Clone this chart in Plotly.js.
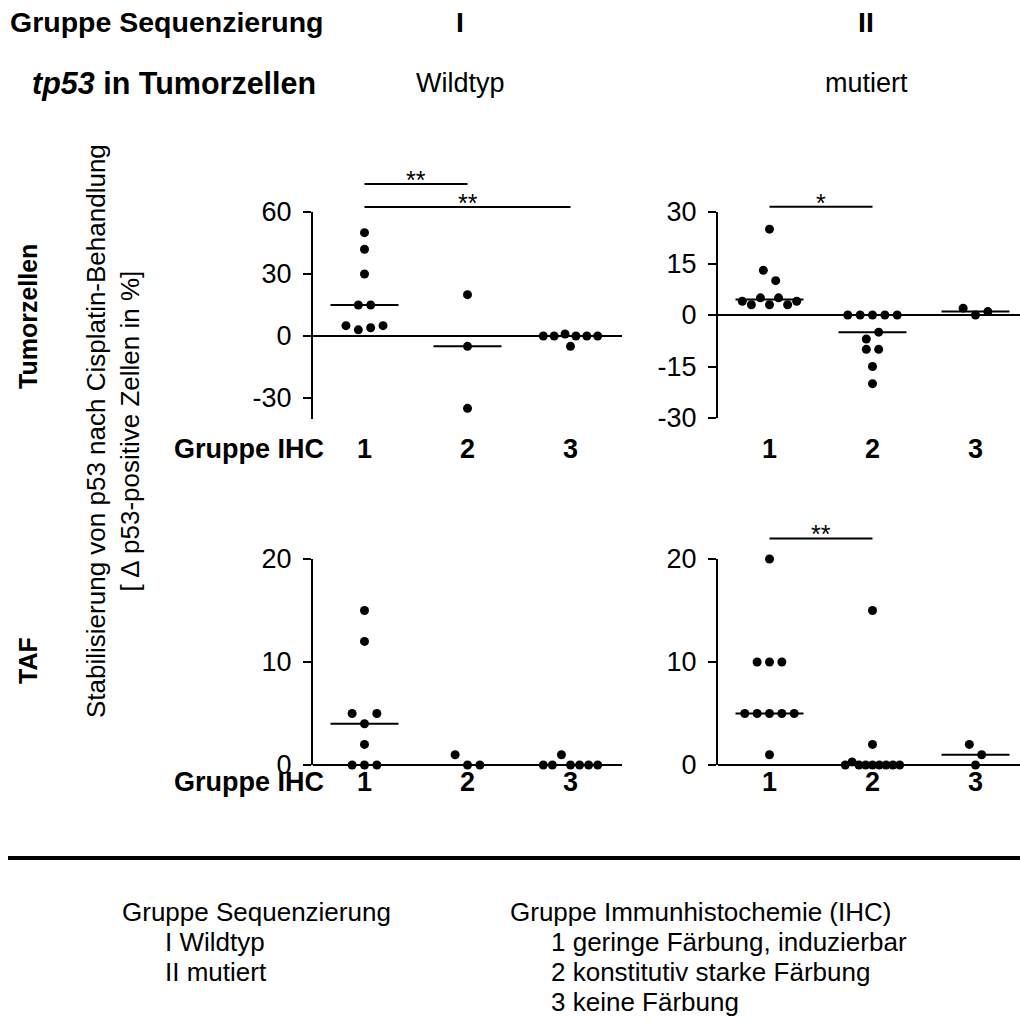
<!DOCTYPE html>
<html><head><meta charset="utf-8">
<script src="https://cdn.plot.ly/plotly-3.0.1.min.js"></script>
<style>html,body{margin:0;padding:0;background:#fff}#chart{width:1020px;height:1023px}</style>
</head><body><div id="chart"></div>
<script>
// ---------- data ----------
const categories = ['1', '2', '3'];               // Gruppe IHC
// Tumorzellen, Sequenzierung I (Wildtyp) – groups IHC 1,2,3
const tumorWildtyp = [[50, 42, 30, 15, 15, 5, 3, 4, 5], [20, -5, -35], [0, 0, 1, -5, 0, 0, 0]];
// Tumorzellen, Sequenzierung II (mutiert)
const tumorMutiert = [[25, 13, 10, 4, 3, 5, 3, 5, 3, 4], [0, 0, 0, 0, 0, -7, -5, -10, -10, -15, -20], [2, 0, 1]];
// TAF, Wildtyp
const tafWildtyp = [[15, 12, 5, 4, 5, 2, 0, 0, 0], [1, 0, 0], [0, 0, 1, 0, 0, 0, 0]];
// TAF, mutiert
const tafMutiert = [[20, 10, 10, 10, 5, 5, 5, 5, 5, 1], [15, 2, 0, 0.3, 0, 0, 0, 0, 0, 0, 0], [2, 0, 1]];

const tumorWildtypTicks = [-30, 0, 30, 60];
const tumorMutiertTicks = [-30, -15, 0, 15, 30];
const tafTicks = [0, 10, 20];

// significance brackets: [from group, to group, level (value), label]
const tumorWildtypSig = [[1, 2, 73.5, '**'], [1, 3, 62.4, '**']];
const tumorMutiertSig = [[1, 2, 31.5, '*']];
const tafWildtypSig = [];
const tafMutiertSig = [[1, 2, 22.0, '**']];

// ---------- layout helpers ----------
const W = 1020, H = 1023;
const px = x => x / W, py = y => 1 - y / H;
const FONT = 'Liberation Sans, Arial, Helvetica, sans-serif';
const SLOT = 0.12, MAXHALF = 2.2, ROWPX = 10.5, MEDHALF = 0.33;

const panels = [
  {id: '',  data: tumorWildtyp, ticks: tumorWildtypTicks, sig: tumorWildtypSig, xdom: [313, 622],  ydom: [418.7, 212], xr: [0.5, 3.5],   yr: [-40, 60], labY: 449},
  {id: '2', data: tumorMutiert, ticks: tumorMutiertTicks, sig: tumorMutiertSig, xdom: [718, 1020], ydom: [418, 212],   xr: [0.5, 3.432], yr: [-30, 30], labY: 449},
  {id: '3', data: tafWildtyp,   ticks: tafTicks,          sig: tafWildtypSig,   xdom: [313, 622],  ydom: [765, 559],   xr: [0.5, 3.5],   yr: [0, 20],   labY: 782},
  {id: '4', data: tafMutiert,   ticks: tafTicks,          sig: tafMutiertSig,   xdom: [718, 1020], ydom: [765, 559],   xr: [0.5, 3.432], yr: [0, 20],   labY: 782}
];

function median(a) {
  const s = [...a].sort((x, y) => x - y), n = s.length;
  return n % 2 ? s[(n - 1) / 2] : (s[n / 2 - 1] + s[n / 2]) / 2;
}
function swarm(vals, pxPerUnit) {
  const idx = vals.map((v, i) => i).sort((a, b) => vals[b] - vals[a] || a - b);
  const off = new Array(vals.length).fill(0);
  const rows = []; let cur = [idx[0]];
  for (let k = 1; k < idx.length; k++) {
    if ((vals[cur[0]] - vals[idx[k]]) * pxPerUnit < ROWPX) cur.push(idx[k]);
    else { rows.push(cur); cur = [idx[k]]; }
  }
  rows.push(cur);
  rows.forEach(r => {
    r.sort((a, b) => a - b);
    const n = r.length, s = n > 1 ? Math.min(1, 2 * MAXHALF / (n - 1)) : 0;
    r.forEach((i, k) => off[i] = (k - (n - 1) / 2) * s * SLOT);
  });
  return off;
}

const traces = [], layout = {
  width: W, height: H, margin: {l: 0, r: 0, t: 0, b: 0},
  paper_bgcolor: '#fff', plot_bgcolor: 'rgba(0,0,0,0)', showlegend: false,
  font: {family: FONT, color: '#000'}, shapes: [], annotations: []
};

panels.forEach(p => {
  const xa = 'x' + p.id, ya = 'y' + p.id;
  const ydomPaper = [py(p.ydom[0]), py(p.ydom[1])];
  const pxPerUnit = (p.ydom[0] - p.ydom[1]) / (p.yr[1] - p.yr[0]);
  const toPaperY = v => ydomPaper[0] + (v - p.yr[0]) / (p.yr[1] - p.yr[0]) * (ydomPaper[1] - ydomPaper[0]);
  layout['xaxis' + p.id] = {
    domain: [px(p.xdom[0]), px(p.xdom[1])], range: p.xr, anchor: ya,
    showline: false, showticklabels: false, ticks: '', zeroline: false, showgrid: false, fixedrange: true
  };
  layout['yaxis' + p.id] = {
    domain: ydomPaper, range: p.yr, anchor: xa,
    showline: true, linewidth: 2, linecolor: '#000', mirror: false,
    ticks: 'outside', ticklen: 8, tickwidth: 2, tickcolor: '#000',
    tickvals: p.ticks, ticktext: p.ticks.map(String), ticklabelstandoff: 6,
    tickfont: {family: FONT, size: 27, color: '#000'},
    showgrid: false, zeroline: true, zerolinewidth: 2, zerolinecolor: '#000', fixedrange: true
  };
  p.data.forEach((vals, g) => {
    const c = g + 1, off = swarm(vals, pxPerUnit), m = median(vals);
    traces.push({type: 'scatter', mode: 'lines', xaxis: xa, yaxis: ya, hoverinfo: 'skip',
      x: [c - MEDHALF, c + MEDHALF], y: [m, m], line: {color: '#000', width: 2}, cliponaxis: false});
    traces.push({type: 'scatter', mode: 'markers', xaxis: xa, yaxis: ya,
      x: vals.map((v, i) => c + off[i]), y: vals, cliponaxis: false,
      marker: {color: '#000', size: 9, line: {width: 0}}});
  });
  p.sig.forEach(([a, b, lvl, lab]) => {
    layout.shapes.push({type: 'line', xref: xa, yref: 'paper', x0: a, x1: b,
      y0: toPaperY(lvl), y1: toPaperY(lvl), line: {color: '#000', width: 2}});
    layout.annotations.push({xref: xa, yref: 'paper', x: (a + b) / 2, y: toPaperY(lvl),
      yanchor: 'bottom', yshift: -12, text: lab, showarrow: false, font: {size: 25, family: FONT}});
  });
  // category labels (Gruppe IHC)
  categories.forEach((t, i) => layout.annotations.push({xref: xa, yref: 'paper', x: i + 1, y: py(p.labY),
    text: '<b>' + t + '</b>', showarrow: false, xanchor: 'center', yanchor: 'middle', font: {size: 27, family: FONT}}));
});

function txt(t, x, y, opt) {
  layout.annotations.push(Object.assign({xref: 'paper', yref: 'paper', x: px(x), y: py(y), text: t,
    showarrow: false, xanchor: 'left', yanchor: 'middle', font: {size: 26, family: FONT, color: '#000'}}, opt || {}));
}
// header
txt('<b>Gruppe Sequenzierung</b>', 8, 22, {font: {size: 28.5, family: FONT}});
txt('<b>I</b>', 460, 22, {xanchor: 'center', font: {size: 28.5, family: FONT}});
txt('<b>II</b>', 866, 22, {xanchor: 'center', font: {size: 28.5, family: FONT}});
txt('<b><i>tp53</i> in Tumorzellen</b>', 30, 83, {font: {size: 30.5, family: FONT}});
txt('Wildtyp', 460, 83, {xanchor: 'center', font: {size: 27, family: FONT}});
txt('mutiert', 866, 83, {xanchor: 'center', font: {size: 27, family: FONT}});
// row labels
txt('<b>Tumorzellen</b>', 28, 317, {xanchor: 'center', textangle: -90, font: {size: 25, family: FONT}});
txt('<b>TAF</b>', 28, 661, {xanchor: 'center', textangle: -90, font: {size: 25, family: FONT}});
// y title
txt('Stabilisierung von p53 nach Cisplatin-Behandlung<br>[ \u2206 p53-positive Zellen in %]', 113, 431,
  {xanchor: 'center', textangle: -90, font: {size: 26, family: FONT}});
// Gruppe IHC labels
txt('<b>Gruppe IHC</b>', 326, 449, {xanchor: 'right', font: {size: 27, family: FONT}});
txt('<b>Gruppe IHC</b>', 326, 782, {xanchor: 'right', font: {size: 27, family: FONT}});
// footer
layout.shapes.push({type: 'line', xref: 'paper', yref: 'paper', x0: px(8), x1: 1, y0: py(858), y1: py(858), line: {color: '#000', width: 4}});
txt('Gruppe Sequenzierung', 120, 912);
txt('I Wildtyp', 163, 942);
txt('II mutiert', 163, 972);
txt('Gruppe Immunhistochemie (IHC)', 508, 912);
txt('1 geringe Färbung, induzierbar', 549, 942);
txt('2 konstitutiv starke Färbung', 549, 972);
txt('3 keine Färbung', 549, 1002);

Plotly.newPlot('chart', traces, layout, {displayModeBar: false, staticPlot: true});
</script>
</body></html>
